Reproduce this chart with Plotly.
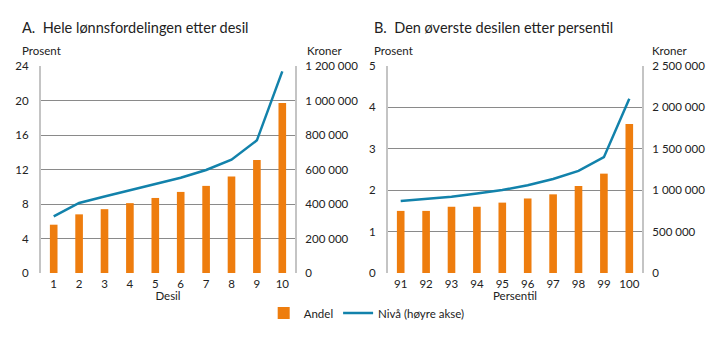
import plotly.graph_objects as go

# Data
desil = [1, 2, 3, 4, 5, 6, 7, 8, 9, 10]
andel_desil = [5.6, 6.8, 7.4, 8.1, 8.7, 9.4, 10.1, 11.2, 13.1, 19.7]
niva_desil = [328000, 406000, 443000, 479000, 515000, 552000, 597000, 657000, 769000, 1169000]

persentil = [91, 92, 93, 94, 95, 96, 97, 98, 99, 100]
andel_pers = [1.5, 1.5, 1.6, 1.6, 1.7, 1.8, 1.9, 2.1, 2.4, 3.6]
niva_pers = [869000, 893000, 922000, 959000, 1002000, 1059000, 1136000, 1233000, 1399000, 2103000]

left_ticks_a = [0, 4, 8, 12, 16, 20, 24]
right_ticks_a = [0, 200000, 400000, 600000, 800000, 1000000, 1200000]
right_text_a = ["0", "200 000", "400 000", "600 000", "800 000", "1 000 000", "1 200 000"]
left_ticks_b = [0, 1, 2, 3, 4, 5]
right_ticks_b = [0, 500000, 1000000, 1500000, 2000000, 2500000]
right_text_b = ["0", "500 000", "1 000 000", "1 500 000", "2 000 000", "2 500 000"]

ORANGE = "#ee7d0e"
BLUE = "#1282ab"
FONT = "Lato"

W, H = 719, 341
def px_x(a, b):
    return [a / W, b / W]
def px_y(top, bottom):
    return [1 - bottom / H, 1 - top / H]

fig = go.Figure()

fig.add_trace(go.Bar(x=desil, y=andel_desil, marker=dict(color=ORANGE, line=dict(width=0)),
                     width=0.3, name="Andel", xaxis="x", yaxis="y", showlegend=True))
fig.add_trace(go.Scatter(x=desil, y=niva_desil, mode="lines", line=dict(color=BLUE, width=2.5),
                         name="Nivå (høyre akse)", xaxis="x", yaxis="y2", showlegend=True))
fig.add_trace(go.Bar(x=persentil, y=andel_pers, marker=dict(color=ORANGE, line=dict(width=0)),
                     width=0.3, name="Andel", xaxis="x2", yaxis="y3", showlegend=False))
fig.add_trace(go.Scatter(x=persentil, y=niva_pers, mode="lines", line=dict(color=BLUE, width=2.5),
                         name="Nivå (høyre akse)", xaxis="x2", yaxis="y4", showlegend=False))

ydom = px_y(66, 273)
tickfont = dict(family=FONT, size=11.5, color="#222")
grid = "#8a8a8a"
side_line = "#c4c4c4"

fig.update_layout(
    template="none",
    width=W, height=H,
    margin=dict(l=0, r=0, t=0, b=0, autoexpand=False),
    paper_bgcolor="white", plot_bgcolor="white",
    font=dict(family=FONT, size=11.5, color="#222"),
    xaxis=dict(domain=px_x(41, 295), range=[0.5, 10.5], tickvals=desil, showgrid=False,
               ticks="", tickfont=tickfont, zeroline=False, anchor="y", automargin=False,
               ticklabelstandoff=2,
               title=dict(text="Desil", font=dict(family=FONT, size=11.5), standoff=0)),
    yaxis=dict(domain=ydom, range=[0, 24], tickvals=left_ticks_a, showgrid=True, gridcolor=grid,
               gridwidth=1, zeroline=False, showline=True, linecolor=side_line, linewidth=2,
               ticks="", tickfont=tickfont, anchor="x", ticklabelstandoff=8, automargin=False),
    yaxis2=dict(domain=ydom, range=[0, 1200000], tickvals=right_ticks_a, ticktext=right_text_a,
                overlaying="y", side="right", anchor="x", showgrid=False, zeroline=False,
                showline=True, linecolor=side_line, linewidth=2, ticks="", tickfont=tickfont,
                ticklabelstandoff=6, automargin=False),
    xaxis2=dict(domain=px_x(388, 642), range=[90.5, 100.5], tickvals=persentil, showgrid=False,
                ticks="", tickfont=tickfont, zeroline=False, anchor="y3", automargin=False,
                ticklabelstandoff=2,
                title=dict(text="Persentil", font=dict(family=FONT, size=11.5), standoff=0)),
    yaxis3=dict(domain=ydom, range=[0, 5], tickvals=left_ticks_b, showgrid=True, gridcolor=grid,
                gridwidth=1, zeroline=False, showline=True, linecolor=side_line, linewidth=2,
                ticks="", tickfont=tickfont, anchor="x2", ticklabelstandoff=8, automargin=False),
    yaxis4=dict(domain=ydom, range=[0, 2500000], tickvals=right_ticks_b, ticktext=right_text_b,
                overlaying="y3", side="right", anchor="x2", showgrid=False, zeroline=False,
                showline=True, linecolor=side_line, linewidth=2, ticks="", tickfont=tickfont,
                ticklabelstandoff=6, automargin=False),
    legend=dict(orientation="h", x=0.51, xanchor="center", y=1 - 313 / H, yanchor="middle",
                font=dict(family=FONT, size=11.5), itemwidth=30, bgcolor="rgba(0,0,0,0)"),
    showlegend=True,
)

annots = [
    dict(text="A.  Hele lønnsfordelingen etter desil", x=20 / W, y=1 - 27 / H, size=14.5),
    dict(text="B.  Den øverste desilen etter persentil", x=372 / W, y=1 - 27 / H, size=14.5),
    dict(text="Prosent", x=20 / W, y=1 - 51 / H, size=11.5),
    dict(text="Kroner", x=305 / W, y=1 - 51 / H, size=11.5),
    dict(text="Prosent", x=372 / W, y=1 - 51 / H, size=11.5),
    dict(text="Kroner", x=650 / W, y=1 - 51 / H, size=11.5),
]
for a in annots:
    fig.add_annotation(text=a["text"], x=a["x"], y=a["y"], xref="paper", yref="paper",
                       xanchor="left", yanchor="middle", showarrow=False,
                       font=dict(family=FONT, size=a["size"], color="#222"))

fig.write_html("out.html")
